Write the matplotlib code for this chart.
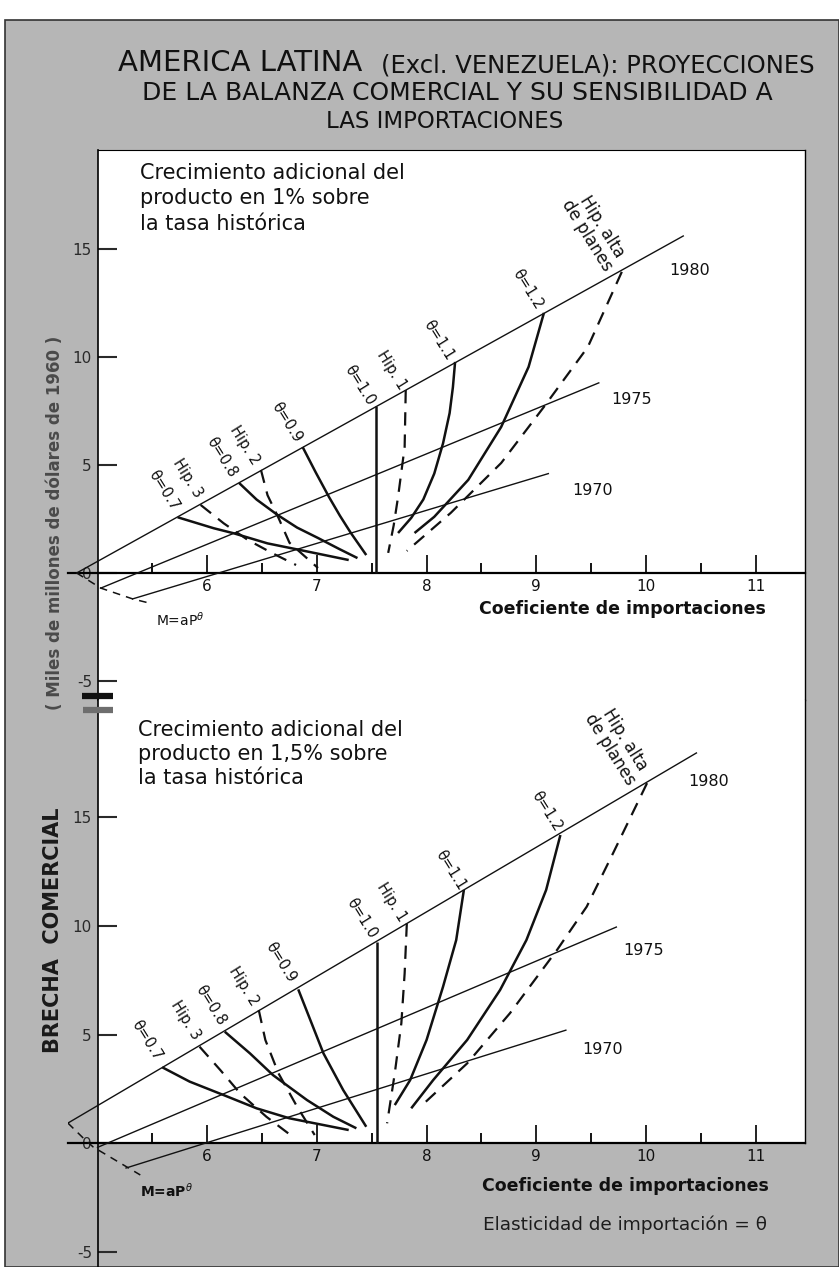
import matplotlib.pyplot as plt
from matplotlib.lines import Line2D
from matplotlib.patches import Rectangle
from matplotlib.ticker import FixedLocator

plt.rcParams["font.family"] = ["DejaVu Sans"]
plt.rcParams["axes.unicode_minus"] = False

W, H = 839, 1267
GRAY = "#b6b6b6"
INK = "#111111"

# x = coeficiente de importaciones, y = brecha comercial (miles de millones US$ 1960)

# ---- panel superior: +1% sobre la tasa historica ----
TOP_1980_X = [4.81, 10.34]
TOP_1980_Y = [0.0, 15.6]
TOP_1975_X = [5.03, 9.57]
TOP_1975_Y = [-0.7, 8.8]
TOP_1970_X = [5.32, 9.11]
TOP_1970_Y = [-1.2, 4.6]
TOP_ENV_X = [4.81, 5.03, 5.32, 5.47]
TOP_ENV_Y = [0.0, -0.7, -1.2, -1.39]

TOP_E07 = ([5.73, 6.06, 6.24, 6.55, 6.85, 7.29], [2.58, 2.07, 1.84, 1.37, 1.06, 0.60])
TOP_E08 = ([6.29, 6.45, 6.64, 6.82, 7.01, 7.20, 7.37], [4.17, 3.40, 2.69, 2.10, 1.62, 1.12, 0.69])
TOP_E09 = ([6.87, 6.99, 7.11, 7.21, 7.31, 7.45], [5.83, 4.65, 3.52, 2.65, 1.85, 0.83])
TOP_E10 = ([7.54, 7.54], [7.74, 0.0])
TOP_E11 = ([8.26, 8.24, 8.21, 8.15, 8.07, 7.97, 7.86, 7.74],
           [9.77, 8.60, 7.40, 6.00, 4.60, 3.40, 2.55, 1.85])
TOP_E12 = ([9.07, 8.93, 8.68, 8.38, 8.07, 7.89], [12.04, 9.54, 6.76, 4.31, 2.60, 1.85])
TOP_H3 = ([5.94, 6.15, 6.37, 6.60, 6.81], [3.15, 2.30, 1.53, 0.90, 0.37])
TOP_H2 = ([6.49, 6.55, 6.65, 6.75, 7.01], [4.77, 3.60, 2.55, 1.40, 0.23])
TOP_H1 = ([7.81, 7.80, 7.74, 7.70, 7.65], [8.47, 5.83, 3.52, 2.20, 0.93])
TOP_HA = ([9.78, 9.47, 9.07, 8.68, 8.22, 7.82], [13.94, 10.46, 7.69, 5.09, 2.78, 1.02])

# ---- panel inferior: +1,5% sobre la tasa historica ----
BOT_1980_X = [4.73, 10.46]
BOT_1980_Y = [0.92, 17.97]
BOT_1975_X = [5.00, 9.73]
BOT_1975_Y = [-0.2, 9.95]
BOT_1970_X = [5.26, 9.27]
BOT_1970_Y = [-1.15, 5.2]
BOT_ENV_X = [4.73, 4.87, 4.96, 5.39]
BOT_ENV_Y = [0.92, 0.23, -0.18, -1.47]

BOT_E07 = ([5.59, 5.84, 6.15, 6.45, 6.75, 7.06, 7.29], [3.49, 2.83, 2.21, 1.60, 1.14, 0.83, 0.60])
BOT_E08 = ([6.16, 6.39, 6.60, 6.91, 7.15, 7.36], [5.13, 4.13, 3.13, 1.98, 1.21, 0.68])
BOT_E09 = ([6.83, 6.94, 7.06, 7.24, 7.45], [7.08, 5.67, 4.13, 2.44, 0.75])
BOT_E10 = ([7.55, 7.55], [9.26, 0.0])
BOT_E11 = ([8.34, 8.27, 8.15, 8.00, 7.85, 7.71], [11.66, 9.35, 7.20, 4.75, 2.90, 1.75])
BOT_E12 = ([9.22, 9.09, 8.91, 8.67, 8.37, 8.06, 7.86], [14.19, 11.66, 9.35, 7.05, 4.75, 2.90, 1.60])
BOT_H3 = ([5.93, 6.12, 6.30, 6.54, 6.78], [4.44, 3.36, 2.29, 1.21, 0.29])
BOT_H2 = ([6.47, 6.53, 6.65, 6.82, 6.98], [6.13, 4.75, 3.21, 1.67, 0.37])
BOT_H1 = ([7.82, 7.80, 7.77, 7.71, 7.64], [10.12, 7.82, 5.52, 3.21, 0.91])
BOT_HA = ([10.01, 9.70, 9.46, 9.19, 8.76, 8.37, 7.96], [16.58, 13.35, 10.89, 8.90, 5.98, 3.67, 1.75])

# etiquetas de las curvas: (texto, x, y)
CURVE_NAMES = ["θ=0.7", "Hip. 3", "θ=0.8", "Hip. 2", "θ=0.9", "θ=1.0", "Hip. 1", "θ=1.1", "θ=1.2",
               "Hip. alta\nde planes"]
TOP_LABEL_X = [5.60, 5.82, 6.13, 6.34, 6.73, 7.39, 7.68, 8.11, 8.92, 9.53]
TOP_LABEL_Y = [3.84, 4.40, 5.37, 5.93, 6.99, 8.70, 9.40, 10.79, 13.15, 15.83]
BOT_LABEL_X = [5.45, 5.80, 6.03, 6.33, 6.67, 7.41, 7.68, 8.22, 9.10, 9.74]
BOT_LABEL_Y = [4.75, 5.67, 6.36, 7.24, 8.34, 10.37, 11.11, 12.58, 15.30, 18.34]

YEARS = ["1980", "1975", "1970"]
TOP_YEAR_X = [10.40, 9.87, 9.51]
TOP_YEAR_Y = [13.98, 8.01, 3.84]
BOT_YEAR_X = [10.57, 9.98, 9.60]
BOT_YEAR_Y = [16.64, 8.89, 4.29]

X_MAJOR = [6, 7, 8, 9, 10, 11]
X_MINOR = [5.5, 6.5, 7.5, 8.5, 9.5, 10.5]
Y_TICKS = [-5, 0, 5, 10, 15]

X_MIN, X_MAX = 4.73, 11.45


def fx(px):
    return px / W


def fy(py):
    return 1 - py / H


def make_axes(top_px, bottom_px, y_top, y_bottom, white_from):
    ax = fig.add_axes([fx(67.9), fy(bottom_px), fx(805) - fx(67.9), (bottom_px - top_px) / H])
    ax.set_xlim(X_MIN, X_MAX)
    ax.set_ylim(y_bottom, y_top)
    ax.set_facecolor("none")
    ax.add_patch(Rectangle((5, white_from), X_MAX - 5, y_top - white_from,
                           facecolor="white", edgecolor="none", zorder=0))
    ax.spines["left"].set_position(("data", 5))
    ax.spines["left"].set_linewidth(1.2)
    ax.spines["bottom"].set_position(("data", 0))
    ax.spines["bottom"].set_linewidth(1.6)
    ax.spines["right"].set_linewidth(1.0)
    ax.spines["right"].set_bounds(white_from, y_top)
    ax.spines["top"].set_bounds(5, X_MAX)
    ax.xaxis.set_major_locator(FixedLocator(X_MAJOR))
    ax.xaxis.set_minor_locator(FixedLocator(X_MINOR))
    ax.yaxis.set_major_locator(FixedLocator(Y_TICKS))
    ax.tick_params(axis="x", which="major", direction="in", length=13, width=1.3,
                   labelsize=11, pad=4, colors=INK)
    ax.tick_params(axis="x", which="minor", direction="in", length=7, width=1.3)
    ax.tick_params(axis="y", direction="in", length=14, width=1.5, labelsize=11,
                   pad=4, colors="#2a2a2a")
    return ax


def draw_panel(ax, years, env, solids, dashes, label_x, label_y, year_x, year_y):
    for xs, ys in years:
        ax.plot(xs, ys, color=INK, lw=1.0, zorder=3)
    ax.plot(env[0], env[1], color=INK, lw=1.1, linestyle=(0, (5, 4)), zorder=3)
    for xs, ys in solids:
        ax.plot(xs, ys, color=INK, lw=1.8, zorder=4, solid_capstyle="butt")
    for xs, ys in dashes:
        ax.plot(xs, ys, color=INK, lw=1.6, linestyle=(0, (6, 4)), zorder=4)
    for name, x, y in zip(CURVE_NAMES, label_x, label_y):
        ax.text(x, y, name, rotation=-58, rotation_mode="anchor", ha="center", va="center",
                fontsize=12 if "\n" in name else 10.5, color=INK, linespacing=1.0, zorder=5)
    for name, x, y in zip(YEARS, year_x, year_y):
        ax.text(x, y, name, ha="center", va="center", fontsize=11.5, color=INK, zorder=5)


fig = plt.figure(figsize=(W / 100, H / 100), dpi=100)
fig.patch.set_facecolor("white")
fig.add_artist(Rectangle((fx(5), 0), 1 - fx(5), fy(20), transform=fig.transFigure,
                         facecolor=GRAY, edgecolor="#333333", lw=1.2, zorder=-10))

# titulo
fig.text(fx(118), fy(63), "AMERICA LATINA", ha="left", va="center", fontsize=21, color=INK)
fig.text(fx(815), fy(65), "(Excl. VENEZUELA): PROYECCIONES", ha="right", va="center",
         fontsize=17.5, color=INK)
fig.text(fx(457), fy(93), "DE LA BALANZA COMERCIAL Y SU SENSIBILIDAD A", ha="center", va="center",
         fontsize=18, color=INK)
fig.text(fx(445), fy(121), "LAS IMPORTACIONES", ha="center", va="center", fontsize=16.5, color=INK)

# panel superior
ax1 = make_axes(150, 700, 19.58, -5.88, -5.88)
draw_panel(ax1,
           [(TOP_1980_X, TOP_1980_Y), (TOP_1975_X, TOP_1975_Y), (TOP_1970_X, TOP_1970_Y)],
           (TOP_ENV_X, TOP_ENV_Y),
           [TOP_E07, TOP_E08, TOP_E09, TOP_E10, TOP_E11, TOP_E12],
           [TOP_H3, TOP_H2, TOP_H1, TOP_HA],
           TOP_LABEL_X, TOP_LABEL_Y, TOP_YEAR_X, TOP_YEAR_Y)
ax1.text(5.39, 19.0, "Crecimiento adicional del\nproducto en 1% sobre\nla tasa histórica",
         ha="left", va="top", fontsize=15, linespacing=1.35, color=INK)
ax1.text(9.79, -1.67, "Coeficiente de importaciones", ha="center", va="center",
         fontsize=12.5, fontweight="bold", color=INK)
ax1.text(5.75, -2.18, r"M=aP$^{\theta}$", ha="center", va="center", fontsize=10, color=INK)

# panel inferior
ax2 = make_axes(700, 1267, 20.41, -5.71, 0)
ax2.spines["top"].set_visible(False)
draw_panel(ax2,
           [(BOT_1980_X, BOT_1980_Y), (BOT_1975_X, BOT_1975_Y), (BOT_1970_X, BOT_1970_Y)],
           (BOT_ENV_X, BOT_ENV_Y),
           [BOT_E07, BOT_E08, BOT_E09, BOT_E10, BOT_E11, BOT_E12],
           [BOT_H3, BOT_H2, BOT_H1, BOT_HA],
           BOT_LABEL_X, BOT_LABEL_Y, BOT_YEAR_X, BOT_YEAR_Y)
ax2.text(5.37, 19.5, "Crecimiento adicional del\nproducto en 1,5% sobre\nla tasa histórica",
         ha="left", va="top", fontsize=15, linespacing=1.25, color=INK)
ax2.text(9.81, -1.98, "Coeficiente de importaciones", ha="center", va="center",
         fontsize=12.5, fontweight="bold", color=INK)
ax2.text(9.81, -3.78, "Elasticidad de importación = θ", ha="center", va="center",
         fontsize=13.3, color="#1c1c1c")
ax2.text(5.63, -2.21, r"M=aP$^{\theta}$", ha="center", va="center", fontsize=10,
         fontweight="bold", color=INK)

# titulos del eje vertical
fig.text(fx(55), fy(523), "( Miles de millones de dólares de 1960 )", rotation=90,
         ha="center", va="center", fontsize=12, fontweight="bold", color="#4a4a4a")
fig.text(fx(53), fy(930), "BRECHA  COMERCIAL", rotation=90, ha="center", va="center",
         fontsize=15, fontweight="bold", color="#1a1a1a")

# marcas de corte del eje
fig.add_artist(Line2D([fx(82), fx(113)], [fy(696), fy(696)], lw=4.5, color="#111111",
                      solid_capstyle="butt"))
fig.add_artist(Line2D([fx(83), fx(113)], [fy(710), fy(710)], lw=4.5, color="#6e6e6e",
                      solid_capstyle="butt"))

fig.savefig("out.png", dpi=100, facecolor=fig.get_facecolor())
